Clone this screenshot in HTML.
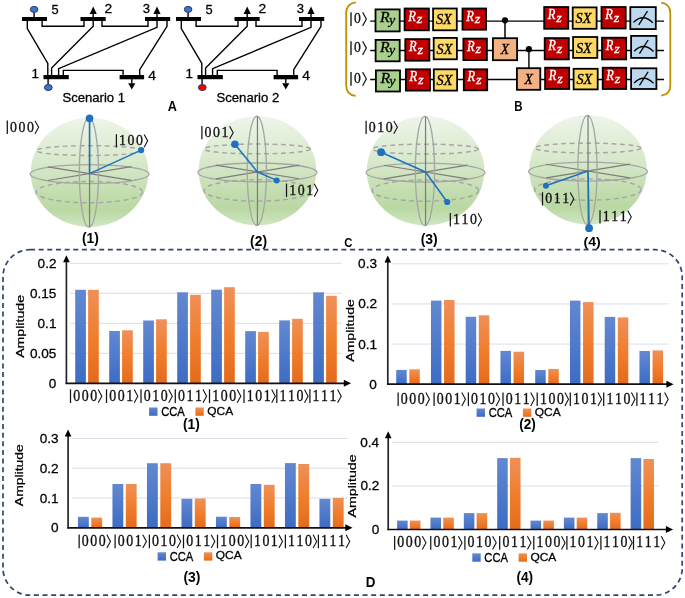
<!DOCTYPE html>
<html><head><meta charset="utf-8"><style>
html,body{margin:0;padding:0;background:#fff;}
body{width:685px;height:598px;overflow:hidden;font-family:"Liberation Sans",sans-serif;}
svg{display:block;}
</style></head><body>
<svg style="will-change:transform" width="685" height="598" viewBox="0 0 685 598">
<rect width="685" height="598" fill="#fff"/>
<defs>
<linearGradient id="sph" x1="0" y1="0" x2="0" y2="1">
<stop offset="0" stop-color="#EDF5E9"/><stop offset="0.4" stop-color="#D8E9CC"/>
<stop offset="0.72" stop-color="#C1DCAC"/><stop offset="0.85" stop-color="#BAD8A3"/><stop offset="1" stop-color="#D0E7C3"/>
</linearGradient>
<linearGradient id="gb" x1="0" y1="0" x2="0" y2="1"><stop offset="0" stop-color="#6388D1"/><stop offset="1" stop-color="#3D6CC4"/></linearGradient>
<linearGradient id="go" x1="0" y1="0" x2="0" y2="1"><stop offset="0" stop-color="#EF9059"/><stop offset="0.5" stop-color="#F07E2E"/><stop offset="1" stop-color="#E46B1B"/></linearGradient>
</defs>
<polyline points="27.30,21.00 27.30,28.60 47.80,63.40 47.80,75.00" fill="none" stroke="#000" stroke-width="1.4"/>
<polyline points="42.10,21.00 42.10,26.30 84.00,26.30 84.00,21.00" fill="none" stroke="#000" stroke-width="1.4"/>
<polyline points="93.20,13.00 93.20,26.30 51.60,68.10 51.60,75.00" fill="none" stroke="#000" stroke-width="1.4"/>
<polyline points="102.00,21.00 102.00,26.30 148.00,26.30 148.00,21.00" fill="none" stroke="#000" stroke-width="1.4"/>
<polyline points="157.00,13.00 157.00,27.30 58.60,68.70 58.60,75.00" fill="none" stroke="#000" stroke-width="1.4"/>
<polyline points="167.00,21.00 167.00,26.30 139.70,69.60 139.70,75.00" fill="none" stroke="#000" stroke-width="1.4"/>
<polyline points="63.30,75.00 63.30,70.40 123.10,70.40 123.10,75.00" fill="none" stroke="#000" stroke-width="1.4"/>
<rect x="22.00" y="17" width="25.00" height="4.00" fill="#000"/>
<rect x="80.50" y="17" width="25.20" height="4.00" fill="#000"/>
<rect x="145.00" y="17" width="25.20" height="4.00" fill="#000"/>
<rect x="43.50" y="75" width="25.30" height="4.20" fill="#000"/>
<rect x="119.60" y="75" width="24.50" height="4.30" fill="#000"/>
<polygon points="89.60,14 96.80,14 93.20,6.4" fill="#000"/>
<polygon points="153.40,14 160.60,14 157.00,6.4" fill="#000"/>
<polyline points="131.80,79.00 131.80,83.50" fill="none" stroke="#000" stroke-width="1.4"/>
<polygon points="128.20,83.3 135.40,83.3 131.80,89.6" fill="#000"/>
<polyline points="34.10,12.50 34.10,17.00" fill="none" stroke="#000" stroke-width="1.4"/>
<ellipse cx="34.10" cy="9.4" rx="3.8" ry="3.0" fill="#4472C4" stroke="#203864" stroke-width="1.0"/>
<polyline points="48.10,79.00 48.10,84.50" fill="none" stroke="#000" stroke-width="1.4"/>
<ellipse cx="48.30" cy="87.5" rx="3.9" ry="3.0" fill="#4472C4" stroke="#203864" stroke-width="1.0"/>
<text transform="translate(51.59,13.67) scale(0.9843,1)" font-family="'Liberation Sans', sans-serif" font-weight="normal" font-style="normal" font-size="13.047" fill="#000" stroke="#000" stroke-width="0.284">5</text>
<text transform="translate(104.51,13.40) scale(1.0731,1)" font-family="'Liberation Sans', sans-serif" font-weight="normal" font-style="normal" font-size="12.903" fill="#000" stroke="#000" stroke-width="0.261">2</text>
<text transform="translate(142.81,13.08) scale(1.0494,1)" font-family="'Liberation Sans', sans-serif" font-weight="normal" font-style="normal" font-size="12.438" fill="#000" stroke="#000" stroke-width="0.267">3</text>
<text transform="translate(31.59,78.10) scale(1.0477,1)" font-family="'Liberation Sans', sans-serif" font-weight="normal" font-style="normal" font-size="12.800" fill="#000" stroke="#000" stroke-width="0.267">1</text>
<text transform="translate(148.19,79.80) scale(1.0829,1)" font-family="'Liberation Sans', sans-serif" font-weight="normal" font-style="normal" font-size="12.800" fill="#000" stroke="#000" stroke-width="0.259">4</text>
<polyline points="181.30,21.00 181.30,28.60 201.80,63.40 201.80,75.00" fill="none" stroke="#000" stroke-width="1.4"/>
<polyline points="196.10,21.00 196.10,26.30 238.00,26.30 238.00,21.00" fill="none" stroke="#000" stroke-width="1.4"/>
<polyline points="247.20,13.00 247.20,26.30 205.60,68.10 205.60,75.00" fill="none" stroke="#000" stroke-width="1.4"/>
<polyline points="256.00,21.00 256.00,26.30 302.00,26.30 302.00,21.00" fill="none" stroke="#000" stroke-width="1.4"/>
<polyline points="311.00,13.00 311.00,27.30 212.60,68.70 212.60,75.00" fill="none" stroke="#000" stroke-width="1.4"/>
<polyline points="321.00,21.00 321.00,26.30 293.70,69.60 293.70,75.00" fill="none" stroke="#000" stroke-width="1.4"/>
<polyline points="217.30,75.00 217.30,70.40 277.10,70.40 277.10,75.00" fill="none" stroke="#000" stroke-width="1.4"/>
<rect x="176.00" y="17" width="25.00" height="4.00" fill="#000"/>
<rect x="234.50" y="17" width="25.20" height="4.00" fill="#000"/>
<rect x="299.00" y="17" width="25.20" height="4.00" fill="#000"/>
<rect x="197.50" y="75" width="25.30" height="4.20" fill="#000"/>
<rect x="273.60" y="75" width="24.50" height="4.30" fill="#000"/>
<polygon points="243.60,14 250.80,14 247.20,6.4" fill="#000"/>
<polygon points="307.40,14 314.60,14 311.00,6.4" fill="#000"/>
<polyline points="285.80,79.00 285.80,83.50" fill="none" stroke="#000" stroke-width="1.4"/>
<polygon points="282.20,83.3 289.40,83.3 285.80,89.6" fill="#000"/>
<polyline points="188.10,12.50 188.10,17.00" fill="none" stroke="#000" stroke-width="1.4"/>
<ellipse cx="188.10" cy="9.4" rx="3.8" ry="3.0" fill="#4472C4" stroke="#203864" stroke-width="1.0"/>
<polyline points="202.10,79.00 202.10,84.50" fill="none" stroke="#000" stroke-width="1.4"/>
<ellipse cx="202.30" cy="87.5" rx="3.9" ry="3.0" fill="#FF0000" stroke="#203864" stroke-width="1.0"/>
<text transform="translate(205.59,13.67) scale(0.9843,1)" font-family="'Liberation Sans', sans-serif" font-weight="normal" font-style="normal" font-size="13.047" fill="#000" stroke="#000" stroke-width="0.284">5</text>
<text transform="translate(258.51,13.40) scale(1.0731,1)" font-family="'Liberation Sans', sans-serif" font-weight="normal" font-style="normal" font-size="12.903" fill="#000" stroke="#000" stroke-width="0.261">2</text>
<text transform="translate(296.81,13.08) scale(1.0494,1)" font-family="'Liberation Sans', sans-serif" font-weight="normal" font-style="normal" font-size="12.438" fill="#000" stroke="#000" stroke-width="0.267">3</text>
<text transform="translate(185.59,78.10) scale(1.0477,1)" font-family="'Liberation Sans', sans-serif" font-weight="normal" font-style="normal" font-size="12.800" fill="#000" stroke="#000" stroke-width="0.267">1</text>
<text transform="translate(302.19,79.80) scale(1.0829,1)" font-family="'Liberation Sans', sans-serif" font-weight="normal" font-style="normal" font-size="12.800" fill="#000" stroke="#000" stroke-width="0.259">4</text>
<text transform="translate(62.41,101.67) scale(1.0151,1)" font-family="'Liberation Sans', sans-serif" font-weight="normal" font-style="normal" font-size="12.925" fill="#000" stroke="#000" stroke-width="0.276">Scenario 1</text>
<text transform="translate(216.41,101.67) scale(1.0189,1)" font-family="'Liberation Sans', sans-serif" font-weight="normal" font-style="normal" font-size="12.925" fill="#000" stroke="#000" stroke-width="0.275">Scenario 2</text>
<text transform="translate(167.78,111.20) scale(0.9181,1)" font-family="'Liberation Sans', sans-serif" font-weight="bold" font-style="normal" font-size="13.818" fill="#000">A</text>
<path d="M355.8,2.3 Q346.2,3.5 346.2,13 L346.2,85.5 Q346.2,95 355.6,95.9" fill="none" stroke="#BF9000" stroke-width="1.8"/>
<path d="M661.2,2.6 Q670.3,4 670.3,13 L670.3,85.5 Q670.3,94.5 661.2,95.7" fill="none" stroke="#BF9000" stroke-width="1.8"/>
<line x1="370.2" y1="21.2" x2="664" y2="21.2" stroke="#000" stroke-width="1.3"/>
<line x1="370.2" y1="50.5" x2="664" y2="50.5" stroke="#000" stroke-width="1.3"/>
<line x1="370.2" y1="79.5" x2="664" y2="79.5" stroke="#000" stroke-width="1.3"/>
<line x1="351.0" y1="12.30" x2="351.0" y2="25.90" stroke="#1a1a1a" stroke-width="1.4"/>
<text transform="scale(0.9031,1)" x="395.74" y="23.45" text-anchor="middle" font-family="'Liberation Serif', serif" font-size="15.111" fill="#111" stroke="#111" stroke-width="0.35">0</text>
<polyline points="362.6,12.30 366.4,19.10 362.6,25.90" fill="none" stroke="#1a1a1a" stroke-width="1.2"/>
<line x1="351.0" y1="41.30" x2="351.0" y2="54.90" stroke="#1a1a1a" stroke-width="1.4"/>
<text transform="scale(0.9031,1)" x="395.74" y="52.45" text-anchor="middle" font-family="'Liberation Serif', serif" font-size="15.111" fill="#111" stroke="#111" stroke-width="0.35">0</text>
<polyline points="362.6,41.30 366.4,48.10 362.6,54.90" fill="none" stroke="#1a1a1a" stroke-width="1.2"/>
<line x1="351.0" y1="72.10" x2="351.0" y2="85.70" stroke="#1a1a1a" stroke-width="1.4"/>
<text transform="scale(0.9031,1)" x="395.74" y="83.25" text-anchor="middle" font-family="'Liberation Serif', serif" font-size="15.111" fill="#111" stroke="#111" stroke-width="0.35">0</text>
<polyline points="362.6,72.10 366.4,78.90 362.6,85.70" fill="none" stroke="#1a1a1a" stroke-width="1.2"/>
<line x1="505.0" y1="20.2" x2="505.0" y2="38.5" stroke="#000" stroke-width="1.5"/>
<line x1="528.9" y1="49.3" x2="528.9" y2="68" stroke="#000" stroke-width="1.4"/>
<rect x="375.50" y="9.40" width="24.20" height="22.00" fill="#A9D18E" stroke="#000" stroke-width="1.8"/>
<text transform="translate(379.98,21.60) scale(1.1273,1)" font-family="'Liberation Serif', serif" font-weight="normal" font-style="italic" font-size="14.046" fill="#000" stroke="#000" stroke-width="0.266">R</text>
<text transform="translate(388.96,23.82) scale(1.1273,1)" font-family="'Liberation Serif', serif" font-weight="normal" font-style="italic" font-size="12.444" fill="#000" stroke="#000" stroke-width="0.266">y</text>
<rect x="404.60" y="8.50" width="24.30" height="21.80" fill="#C00000" stroke="#000" stroke-width="1.8"/>
<text transform="translate(408.26,20.60) scale(0.8899,1)" font-family="'Liberation Serif', serif" font-weight="normal" font-style="italic" font-size="14.046" fill="#fff" stroke="#fff" stroke-width="0.337">R</text>
<text transform="translate(416.74,23.30) scale(1.1948,1)" font-family="'Liberation Serif', serif" font-weight="normal" font-style="italic" font-size="11.957" fill="#fff" stroke="#fff" stroke-width="0.251">z</text>
<rect x="433.10" y="8.50" width="23.70" height="21.80" fill="#FFD966" stroke="#000" stroke-width="1.8"/>
<text transform="translate(435.92,24.14) scale(0.9182,1)" font-family="'Liberation Serif', serif" font-weight="normal" font-style="italic" font-size="15.613" fill="#000" stroke="#000" stroke-width="0.327">SX</text>
<rect x="462.50" y="8.50" width="23.60" height="21.20" fill="#C00000" stroke="#000" stroke-width="1.8"/>
<text transform="translate(466.16,20.60) scale(0.8899,1)" font-family="'Liberation Serif', serif" font-weight="normal" font-style="italic" font-size="14.046" fill="#fff" stroke="#fff" stroke-width="0.337">R</text>
<text transform="translate(474.64,23.30) scale(1.1948,1)" font-family="'Liberation Serif', serif" font-weight="normal" font-style="italic" font-size="11.957" fill="#fff" stroke="#fff" stroke-width="0.251">z</text>
<rect x="544.20" y="7.00" width="24.10" height="21.80" fill="#C00000" stroke="#000" stroke-width="1.8"/>
<text transform="translate(547.86,19.10) scale(0.8899,1)" font-family="'Liberation Serif', serif" font-weight="normal" font-style="italic" font-size="14.046" fill="#fff" stroke="#fff" stroke-width="0.337">R</text>
<text transform="translate(556.34,21.80) scale(1.1948,1)" font-family="'Liberation Serif', serif" font-weight="normal" font-style="italic" font-size="11.957" fill="#fff" stroke="#fff" stroke-width="0.251">z</text>
<rect x="572.70" y="7.40" width="23.90" height="21.40" fill="#FFD966" stroke="#000" stroke-width="1.8"/>
<text transform="translate(575.52,23.04) scale(0.9182,1)" font-family="'Liberation Serif', serif" font-weight="normal" font-style="italic" font-size="15.613" fill="#000" stroke="#000" stroke-width="0.327">SX</text>
<rect x="601.50" y="7.00" width="24.20" height="21.50" fill="#C00000" stroke="#000" stroke-width="1.8"/>
<text transform="translate(605.16,19.10) scale(0.8899,1)" font-family="'Liberation Serif', serif" font-weight="normal" font-style="italic" font-size="14.046" fill="#fff" stroke="#fff" stroke-width="0.337">R</text>
<text transform="translate(613.64,21.80) scale(1.1948,1)" font-family="'Liberation Serif', serif" font-weight="normal" font-style="italic" font-size="11.957" fill="#fff" stroke="#fff" stroke-width="0.251">z</text>
<rect x="630.30" y="7.10" width="25.50" height="22.00" fill="#BDD7EE" stroke="#000" stroke-width="1.8"/>
<path d="M633.45,22.40 Q643.05,12.90 652.85,22.70" fill="none" stroke="#000" stroke-width="1.3"/>
<line x1="638.75" y1="24.90" x2="647.45" y2="11.20" stroke="#000" stroke-width="1.3"/>
<rect x="375.60" y="39.90" width="24.10" height="21.40" fill="#A9D18E" stroke="#000" stroke-width="1.8"/>
<text transform="translate(380.08,52.10) scale(1.1273,1)" font-family="'Liberation Serif', serif" font-weight="normal" font-style="italic" font-size="14.046" fill="#000" stroke="#000" stroke-width="0.266">R</text>
<text transform="translate(389.06,54.32) scale(1.1273,1)" font-family="'Liberation Serif', serif" font-weight="normal" font-style="italic" font-size="12.444" fill="#000" stroke="#000" stroke-width="0.266">y</text>
<rect x="405.30" y="39.10" width="24.10" height="21.60" fill="#C00000" stroke="#000" stroke-width="1.8"/>
<text transform="translate(408.96,51.20) scale(0.8899,1)" font-family="'Liberation Serif', serif" font-weight="normal" font-style="italic" font-size="14.046" fill="#fff" stroke="#fff" stroke-width="0.337">R</text>
<text transform="translate(417.44,53.90) scale(1.1948,1)" font-family="'Liberation Serif', serif" font-weight="normal" font-style="italic" font-size="11.957" fill="#fff" stroke="#fff" stroke-width="0.251">z</text>
<rect x="433.70" y="37.90" width="23.20" height="21.40" fill="#FFD966" stroke="#000" stroke-width="1.8"/>
<text transform="translate(436.52,53.54) scale(0.9182,1)" font-family="'Liberation Serif', serif" font-weight="normal" font-style="italic" font-size="15.613" fill="#000" stroke="#000" stroke-width="0.327">SX</text>
<rect x="463.40" y="38.60" width="23.50" height="21.50" fill="#C00000" stroke="#000" stroke-width="1.8"/>
<text transform="translate(467.06,50.70) scale(0.8899,1)" font-family="'Liberation Serif', serif" font-weight="normal" font-style="italic" font-size="14.046" fill="#fff" stroke="#fff" stroke-width="0.337">R</text>
<text transform="translate(475.54,53.40) scale(1.1948,1)" font-family="'Liberation Serif', serif" font-weight="normal" font-style="italic" font-size="11.957" fill="#fff" stroke="#fff" stroke-width="0.251">z</text>
<rect x="492.90" y="38.20" width="24.20" height="22.00" fill="#F4B183" stroke="#000" stroke-width="1.8"/>
<text transform="translate(500.84,54.40) scale(0.8752,1)" font-family="'Liberation Serif', serif" font-weight="normal" font-style="italic" font-size="15.573" fill="#000" stroke="#000" stroke-width="0.343">X</text>
<rect x="544.70" y="38.10" width="24.10" height="21.30" fill="#C00000" stroke="#000" stroke-width="1.8"/>
<text transform="translate(548.36,50.20) scale(0.8899,1)" font-family="'Liberation Serif', serif" font-weight="normal" font-style="italic" font-size="14.046" fill="#fff" stroke="#fff" stroke-width="0.337">R</text>
<text transform="translate(556.84,52.90) scale(1.1948,1)" font-family="'Liberation Serif', serif" font-weight="normal" font-style="italic" font-size="11.957" fill="#fff" stroke="#fff" stroke-width="0.251">z</text>
<rect x="573.10" y="37.00" width="24.20" height="20.90" fill="#FFD966" stroke="#000" stroke-width="1.8"/>
<text transform="translate(575.92,52.64) scale(0.9182,1)" font-family="'Liberation Serif', serif" font-weight="normal" font-style="italic" font-size="15.613" fill="#000" stroke="#000" stroke-width="0.327">SX</text>
<rect x="602.00" y="37.70" width="24.20" height="21.70" fill="#C00000" stroke="#000" stroke-width="1.8"/>
<text transform="translate(605.66,49.80) scale(0.8899,1)" font-family="'Liberation Serif', serif" font-weight="normal" font-style="italic" font-size="14.046" fill="#fff" stroke="#fff" stroke-width="0.337">R</text>
<text transform="translate(614.14,52.50) scale(1.1948,1)" font-family="'Liberation Serif', serif" font-weight="normal" font-style="italic" font-size="11.957" fill="#fff" stroke="#fff" stroke-width="0.251">z</text>
<rect x="631.10" y="35.90" width="25.30" height="22.00" fill="#BDD7EE" stroke="#000" stroke-width="1.8"/>
<path d="M634.15,51.20 Q643.75,41.70 653.55,51.50" fill="none" stroke="#000" stroke-width="1.3"/>
<line x1="639.45" y1="53.70" x2="648.15" y2="40.00" stroke="#000" stroke-width="1.3"/>
<rect x="375.90" y="70.40" width="24.10" height="21.10" fill="#A9D18E" stroke="#000" stroke-width="1.8"/>
<text transform="translate(380.38,82.60) scale(1.1273,1)" font-family="'Liberation Serif', serif" font-weight="normal" font-style="italic" font-size="14.046" fill="#000" stroke="#000" stroke-width="0.266">R</text>
<text transform="translate(389.36,84.82) scale(1.1273,1)" font-family="'Liberation Serif', serif" font-weight="normal" font-style="italic" font-size="12.444" fill="#000" stroke="#000" stroke-width="0.266">y</text>
<rect x="405.90" y="69.30" width="24.10" height="21.30" fill="#C00000" stroke="#000" stroke-width="1.8"/>
<text transform="translate(409.56,81.40) scale(0.8899,1)" font-family="'Liberation Serif', serif" font-weight="normal" font-style="italic" font-size="14.046" fill="#fff" stroke="#fff" stroke-width="0.337">R</text>
<text transform="translate(418.04,84.10) scale(1.1948,1)" font-family="'Liberation Serif', serif" font-weight="normal" font-style="italic" font-size="11.957" fill="#fff" stroke="#fff" stroke-width="0.251">z</text>
<rect x="433.80" y="69.30" width="23.30" height="21.30" fill="#FFD966" stroke="#000" stroke-width="1.8"/>
<text transform="translate(436.62,84.94) scale(0.9182,1)" font-family="'Liberation Serif', serif" font-weight="normal" font-style="italic" font-size="15.613" fill="#000" stroke="#000" stroke-width="0.327">SX</text>
<rect x="463.80" y="69.30" width="23.40" height="21.00" fill="#C00000" stroke="#000" stroke-width="1.8"/>
<text transform="translate(467.46,81.40) scale(0.8899,1)" font-family="'Liberation Serif', serif" font-weight="normal" font-style="italic" font-size="14.046" fill="#fff" stroke="#fff" stroke-width="0.337">R</text>
<text transform="translate(475.94,84.10) scale(1.1948,1)" font-family="'Liberation Serif', serif" font-weight="normal" font-style="italic" font-size="11.957" fill="#fff" stroke="#fff" stroke-width="0.251">z</text>
<rect x="516.90" y="68.20" width="23.40" height="21.60" fill="#F4B183" stroke="#000" stroke-width="1.8"/>
<text transform="translate(524.44,84.20) scale(0.8752,1)" font-family="'Liberation Serif', serif" font-weight="normal" font-style="italic" font-size="15.573" fill="#000" stroke="#000" stroke-width="0.343">X</text>
<rect x="545.10" y="67.70" width="24.10" height="21.30" fill="#C00000" stroke="#000" stroke-width="1.8"/>
<text transform="translate(548.76,79.80) scale(0.8899,1)" font-family="'Liberation Serif', serif" font-weight="normal" font-style="italic" font-size="14.046" fill="#fff" stroke="#fff" stroke-width="0.337">R</text>
<text transform="translate(557.24,82.50) scale(1.1948,1)" font-family="'Liberation Serif', serif" font-weight="normal" font-style="italic" font-size="11.957" fill="#fff" stroke="#fff" stroke-width="0.251">z</text>
<rect x="573.60" y="68.80" width="24.10" height="20.60" fill="#FFD966" stroke="#000" stroke-width="1.8"/>
<text transform="translate(576.42,84.44) scale(0.9182,1)" font-family="'Liberation Serif', serif" font-weight="normal" font-style="italic" font-size="15.613" fill="#000" stroke="#000" stroke-width="0.327">SX</text>
<rect x="602.70" y="67.70" width="23.50" height="21.30" fill="#C00000" stroke="#000" stroke-width="1.8"/>
<text transform="translate(606.36,79.80) scale(0.8899,1)" font-family="'Liberation Serif', serif" font-weight="normal" font-style="italic" font-size="14.046" fill="#fff" stroke="#fff" stroke-width="0.337">R</text>
<text transform="translate(614.84,82.50) scale(1.1948,1)" font-family="'Liberation Serif', serif" font-weight="normal" font-style="italic" font-size="11.957" fill="#fff" stroke="#fff" stroke-width="0.251">z</text>
<rect x="631.10" y="68.30" width="25.30" height="20.70" fill="#BDD7EE" stroke="#000" stroke-width="1.8"/>
<path d="M634.15,82.95 Q643.75,73.45 653.55,83.25" fill="none" stroke="#000" stroke-width="1.3"/>
<line x1="639.45" y1="85.45" x2="648.15" y2="71.75" stroke="#000" stroke-width="1.3"/>
<circle cx="505.0" cy="20.3" r="3.1" fill="#000"/>
<circle cx="528.9" cy="49.2" r="3.1" fill="#000"/>
<text transform="translate(514.13,110.80) scale(0.8133,1)" font-family="'Liberation Sans', sans-serif" font-weight="bold" font-style="normal" font-size="14.109" fill="#000">B</text>
<ellipse cx="89.55" cy="172.40" rx="58.8" ry="54.6" fill="url(#sph)"/>
<ellipse cx="89.35" cy="150.60" rx="53" ry="4.9" fill="none" stroke="#A9A5A5" stroke-width="1.45" stroke-dasharray="4.8 3.6"/>
<ellipse cx="89.35" cy="192.10" rx="53.3" ry="10.7" fill="none" stroke="#A9A5A5" stroke-width="1.45" stroke-dasharray="4.8 3.6"/>
<ellipse cx="89.55" cy="174.10" rx="59.4" ry="9.5" fill="none" stroke="#A6A6A6" stroke-width="1.35"/>
<line x1="47.75" y1="166.80" x2="131.35" y2="180.40" stroke="#7D7D7D" stroke-width="1.25"/>
<line x1="47.75" y1="180.50" x2="131.35" y2="166.70" stroke="#7D7D7D" stroke-width="1.25"/>
<ellipse cx="88.95" cy="172.50" rx="9.6" ry="54.6" fill="none" stroke="#A6A6A6" stroke-width="1.35"/>
<line x1="89.55" y1="118.10" x2="89.55" y2="227.00" stroke="#7D7D7D" stroke-width="1.25"/>
<line x1="89.55" y1="173.60" x2="89.55" y2="118.40" stroke="#1F72C0" stroke-width="1.55"/>
<line x1="89.55" y1="173.60" x2="141.20" y2="150.10" stroke="#1F72C0" stroke-width="1.55"/>
<circle cx="89.55" cy="118.40" r="3.8" fill="#1F72C0"/>
<circle cx="141.20" cy="150.10" r="3.1" fill="#1F72C0"/>
<ellipse cx="257.45" cy="170.75" rx="58.8" ry="54.6" fill="url(#sph)"/>
<ellipse cx="257.25" cy="148.95" rx="53" ry="4.9" fill="none" stroke="#A9A5A5" stroke-width="1.45" stroke-dasharray="4.8 3.6"/>
<ellipse cx="257.25" cy="190.45" rx="53.3" ry="10.7" fill="none" stroke="#A9A5A5" stroke-width="1.45" stroke-dasharray="4.8 3.6"/>
<ellipse cx="257.45" cy="172.45" rx="59.4" ry="9.5" fill="none" stroke="#A6A6A6" stroke-width="1.35"/>
<line x1="215.65" y1="165.15" x2="299.25" y2="178.75" stroke="#7D7D7D" stroke-width="1.25"/>
<line x1="215.65" y1="178.85" x2="299.25" y2="165.05" stroke="#7D7D7D" stroke-width="1.25"/>
<ellipse cx="256.85" cy="170.85" rx="9.6" ry="54.6" fill="none" stroke="#A6A6A6" stroke-width="1.35"/>
<line x1="257.45" y1="116.45" x2="257.45" y2="225.35" stroke="#7D7D7D" stroke-width="1.25"/>
<line x1="257.45" y1="171.95" x2="234.90" y2="144.30" stroke="#1F72C0" stroke-width="1.55"/>
<line x1="257.45" y1="171.95" x2="276.70" y2="180.40" stroke="#1F72C0" stroke-width="1.55"/>
<circle cx="234.90" cy="144.30" r="3.8" fill="#1F72C0"/>
<circle cx="276.70" cy="180.40" r="3.0" fill="#1F72C0"/>
<ellipse cx="425.55" cy="170.85" rx="58.8" ry="54.6" fill="url(#sph)"/>
<ellipse cx="425.35" cy="149.05" rx="53" ry="4.9" fill="none" stroke="#A9A5A5" stroke-width="1.45" stroke-dasharray="4.8 3.6"/>
<ellipse cx="425.35" cy="190.55" rx="53.3" ry="10.7" fill="none" stroke="#A9A5A5" stroke-width="1.45" stroke-dasharray="4.8 3.6"/>
<ellipse cx="425.55" cy="172.55" rx="59.4" ry="9.5" fill="none" stroke="#A6A6A6" stroke-width="1.35"/>
<line x1="383.75" y1="165.25" x2="467.35" y2="178.85" stroke="#7D7D7D" stroke-width="1.25"/>
<line x1="383.75" y1="178.95" x2="467.35" y2="165.15" stroke="#7D7D7D" stroke-width="1.25"/>
<ellipse cx="424.95" cy="170.95" rx="9.6" ry="54.6" fill="none" stroke="#A6A6A6" stroke-width="1.35"/>
<line x1="425.55" y1="116.55" x2="425.55" y2="225.45" stroke="#7D7D7D" stroke-width="1.25"/>
<line x1="425.55" y1="172.05" x2="381.10" y2="152.20" stroke="#1F72C0" stroke-width="1.55"/>
<line x1="425.55" y1="172.05" x2="447.20" y2="202.00" stroke="#1F72C0" stroke-width="1.55"/>
<circle cx="381.10" cy="152.20" r="3.9" fill="#1F72C0"/>
<circle cx="447.20" cy="202.00" r="3.1" fill="#1F72C0"/>
<ellipse cx="588.05" cy="169.85" rx="58.8" ry="54.6" fill="url(#sph)"/>
<ellipse cx="587.85" cy="148.05" rx="53" ry="4.9" fill="none" stroke="#A9A5A5" stroke-width="1.45" stroke-dasharray="4.8 3.6"/>
<ellipse cx="587.85" cy="189.55" rx="53.3" ry="10.7" fill="none" stroke="#A9A5A5" stroke-width="1.45" stroke-dasharray="4.8 3.6"/>
<ellipse cx="588.05" cy="171.55" rx="59.4" ry="9.5" fill="none" stroke="#A6A6A6" stroke-width="1.35"/>
<line x1="546.25" y1="164.25" x2="629.85" y2="177.85" stroke="#7D7D7D" stroke-width="1.25"/>
<line x1="546.25" y1="177.95" x2="629.85" y2="164.15" stroke="#7D7D7D" stroke-width="1.25"/>
<ellipse cx="587.45" cy="169.95" rx="9.6" ry="54.6" fill="none" stroke="#A6A6A6" stroke-width="1.35"/>
<line x1="588.05" y1="115.55" x2="588.05" y2="224.45" stroke="#7D7D7D" stroke-width="1.25"/>
<line x1="588.05" y1="171.05" x2="545.90" y2="185.80" stroke="#1F72C0" stroke-width="1.55"/>
<line x1="588.05" y1="171.05" x2="589.10" y2="228.20" stroke="#1F72C0" stroke-width="1.55"/>
<circle cx="545.90" cy="185.80" r="3.0" fill="#1F72C0"/>
<circle cx="589.10" cy="228.20" r="3.9" fill="#1F72C0"/>
<line x1="7.30" y1="120.60" x2="7.30" y2="133.90" stroke="#141414" stroke-width="1.25"/>
<text transform="scale(0.9093,1)" x="14.79 24.14 33.49" y="131.75" text-anchor="middle" font-family="'Liberation Serif', serif" font-size="15.267" fill="#111" stroke="#111" stroke-width="0.35">000</text>
<polyline points="35.00,120.80 38.60,127.25 35.00,133.70" fill="none" stroke="#141414" stroke-width="1.1"/>
<line x1="116.40" y1="134.20" x2="116.40" y2="147.50" stroke="#141414" stroke-width="1.25"/>
<text transform="scale(0.9093,1)" x="134.77 144.12 153.47" y="145.35" text-anchor="middle" font-family="'Liberation Serif', serif" font-size="15.267" fill="#111" stroke="#111" stroke-width="0.35">100</text>
<polyline points="144.10,134.40 147.70,140.85 144.10,147.30" fill="none" stroke="#141414" stroke-width="1.1"/>
<line x1="201.90" y1="126.00" x2="201.90" y2="139.30" stroke="#141414" stroke-width="1.25"/>
<text transform="scale(0.9093,1)" x="228.80 238.14 247.49" y="137.15" text-anchor="middle" font-family="'Liberation Serif', serif" font-size="15.267" fill="#111" stroke="#111" stroke-width="0.35">001</text>
<polyline points="229.60,126.20 233.20,132.65 229.60,139.10" fill="none" stroke="#141414" stroke-width="1.1"/>
<line x1="286.50" y1="183.60" x2="286.50" y2="196.90" stroke="#141414" stroke-width="1.25"/>
<text transform="scale(0.9093,1)" x="321.83 331.18 340.53" y="194.75" text-anchor="middle" font-family="'Liberation Serif', serif" font-size="15.267" fill="#111" stroke="#111" stroke-width="0.35">101</text>
<polyline points="314.20,183.80 317.80,190.25 314.20,196.70" fill="none" stroke="#141414" stroke-width="1.1"/>
<line x1="366.10" y1="120.70" x2="366.10" y2="134.00" stroke="#141414" stroke-width="1.25"/>
<text transform="scale(0.9093,1)" x="409.37 418.72 428.07" y="131.85" text-anchor="middle" font-family="'Liberation Serif', serif" font-size="15.267" fill="#111" stroke="#111" stroke-width="0.35">010</text>
<polyline points="393.80,120.90 397.40,127.35 393.80,133.80" fill="none" stroke="#141414" stroke-width="1.1"/>
<line x1="450.30" y1="213.10" x2="450.30" y2="226.40" stroke="#141414" stroke-width="1.25"/>
<text transform="scale(0.9093,1)" x="501.97 511.31 520.66" y="224.25" text-anchor="middle" font-family="'Liberation Serif', serif" font-size="15.267" fill="#111" stroke="#111" stroke-width="0.35">110</text>
<polyline points="478.00,213.30 481.60,219.75 478.00,226.20" fill="none" stroke="#141414" stroke-width="1.1"/>
<line x1="542.50" y1="192.20" x2="542.50" y2="205.60" stroke="#141414" stroke-width="1.25"/>
<text transform="scale(0.9019,1)" x="608.34 617.76 627.19" y="203.44" text-anchor="middle" font-family="'Liberation Serif', serif" font-size="15.393" fill="#111" stroke="#111" stroke-width="0.35">011</text>
<polyline points="570.20,192.40 573.80,198.90 570.20,205.40" fill="none" stroke="#141414" stroke-width="1.1"/>
<line x1="600.00" y1="210.20" x2="600.00" y2="223.60" stroke="#141414" stroke-width="1.25"/>
<text transform="scale(0.9019,1)" x="672.09 681.52 690.94" y="221.44" text-anchor="middle" font-family="'Liberation Serif', serif" font-size="15.393" fill="#111" stroke="#111" stroke-width="0.35">111</text>
<polyline points="627.70,210.40 631.30,216.90 627.70,223.40" fill="none" stroke="#141414" stroke-width="1.1"/>
<text transform="translate(81.91,243.03) scale(0.9982,1)" font-family="'Liberation Sans', sans-serif" font-weight="bold" font-style="normal" font-size="13.834" fill="#000">(1)</text>
<text transform="translate(250.11,245.63) scale(0.9982,1)" font-family="'Liberation Sans', sans-serif" font-weight="bold" font-style="normal" font-size="13.834" fill="#000">(2)</text>
<text transform="translate(420.70,244.45) scale(1.0189,1)" font-family="'Liberation Sans', sans-serif" font-weight="bold" font-style="normal" font-size="13.727" fill="#000">(3)</text>
<text transform="translate(583.60,245.70) scale(1.0417,1)" font-family="'Liberation Sans', sans-serif" font-weight="bold" font-style="normal" font-size="13.512" fill="#000">(4)</text>
<text transform="translate(344.15,246.66) scale(0.8326,1)" font-family="'Liberation Sans', sans-serif" font-weight="bold" font-style="normal" font-size="13.569" fill="#000">C</text>
<rect x="3" y="249.7" width="679.2" height="345.5" rx="27" ry="27" fill="none" stroke="#33466F" stroke-width="1.7" stroke-dasharray="5 3.65"/>
<line x1="70.00" y1="353.30" x2="341.70" y2="353.30" stroke="#D9DEE9" stroke-width="1"/>
<line x1="70.00" y1="323.30" x2="341.70" y2="323.30" stroke="#D9DEE9" stroke-width="1"/>
<line x1="70.00" y1="293.30" x2="341.70" y2="293.30" stroke="#D9DEE9" stroke-width="1"/>
<line x1="70.00" y1="263.30" x2="341.70" y2="263.30" stroke="#D9DEE9" stroke-width="1"/>
<rect x="75.20" y="289.80" width="10.7" height="93.50" fill="url(#gb)"/>
<rect x="88.10" y="289.80" width="10.7" height="93.50" fill="url(#go)"/>
<rect x="109.20" y="331.00" width="10.7" height="52.30" fill="url(#gb)"/>
<rect x="122.10" y="330.30" width="10.7" height="53.00" fill="url(#go)"/>
<rect x="143.20" y="320.50" width="10.7" height="62.80" fill="url(#gb)"/>
<rect x="156.10" y="319.30" width="10.7" height="64.00" fill="url(#go)"/>
<rect x="177.20" y="292.30" width="10.7" height="91.00" fill="url(#gb)"/>
<rect x="190.10" y="294.80" width="10.7" height="88.50" fill="url(#go)"/>
<rect x="211.20" y="289.70" width="10.7" height="93.60" fill="url(#gb)"/>
<rect x="224.10" y="287.20" width="10.7" height="96.10" fill="url(#go)"/>
<rect x="245.20" y="331.10" width="10.7" height="52.20" fill="url(#gb)"/>
<rect x="258.10" y="331.90" width="10.7" height="51.40" fill="url(#go)"/>
<rect x="279.20" y="320.40" width="10.7" height="62.90" fill="url(#gb)"/>
<rect x="292.10" y="318.80" width="10.7" height="64.50" fill="url(#go)"/>
<rect x="313.20" y="292.30" width="10.7" height="91.00" fill="url(#gb)"/>
<rect x="326.10" y="295.80" width="10.7" height="87.50" fill="url(#go)"/>
<line x1="66.40" y1="384.00" x2="66.40" y2="260.20" stroke="#262626" stroke-width="1.7"/>
<polygon points="63.10,262.20 69.70,262.20 66.40,255.20" fill="#000"/>
<line x1="65.65" y1="383.30" x2="346.00" y2="383.30" stroke="#111" stroke-width="1.7"/>
<polygon points="343.80,379.80 343.80,386.80 351.00,383.30" fill="#000"/>
<text transform="translate(48.76,387.77) scale(1.0000,1)" font-family="'Liberation Sans', sans-serif" font-weight="normal" font-style="normal" font-size="13.600" fill="#000" stroke="#000" stroke-width="0.280">0</text>
<text transform="translate(29.89,357.77) scale(1.0000,1)" font-family="'Liberation Sans', sans-serif" font-weight="normal" font-style="normal" font-size="13.600" fill="#000" stroke="#000" stroke-width="0.280">0.05</text>
<text transform="translate(37.54,327.77) scale(1.0000,1)" font-family="'Liberation Sans', sans-serif" font-weight="normal" font-style="normal" font-size="13.600" fill="#000" stroke="#000" stroke-width="0.280">0.1</text>
<text transform="translate(29.89,297.77) scale(1.0000,1)" font-family="'Liberation Sans', sans-serif" font-weight="normal" font-style="normal" font-size="13.600" fill="#000" stroke="#000" stroke-width="0.280">0.15</text>
<text transform="translate(37.58,267.77) scale(1.0000,1)" font-family="'Liberation Sans', sans-serif" font-weight="normal" font-style="normal" font-size="13.600" fill="#000" stroke="#000" stroke-width="0.280">0.2</text>
<text transform="translate(23.87,357.84) rotate(-90) scale(1.2094,1)" font-family="'Liberation Sans', sans-serif" font-weight="normal" font-style="normal" font-size="11.689" fill="#000" stroke="#000" stroke-width="0.232">Amplitude</text>
<line x1="70.50" y1="389.30" x2="70.50" y2="403.00" stroke="#141414" stroke-width="1.25"/>
<text transform="scale(0.8803,1)" x="87.07 96.73 106.39" y="400.79" text-anchor="middle" font-family="'Liberation Serif', serif" font-size="15.770" fill="#111" stroke="#111" stroke-width="0.35">000</text>
<polyline points="98.20,389.50 101.80,396.15 98.20,402.80" fill="none" stroke="#141414" stroke-width="1.1"/>
<line x1="106.50" y1="389.30" x2="106.50" y2="403.00" stroke="#141414" stroke-width="1.25"/>
<text transform="scale(0.8803,1)" x="127.97 137.63 147.28" y="400.79" text-anchor="middle" font-family="'Liberation Serif', serif" font-size="15.770" fill="#111" stroke="#111" stroke-width="0.35">001</text>
<polyline points="134.20,389.50 137.80,396.15 134.20,402.80" fill="none" stroke="#141414" stroke-width="1.1"/>
<line x1="141.00" y1="389.30" x2="141.00" y2="403.00" stroke="#141414" stroke-width="1.25"/>
<text transform="scale(0.8803,1)" x="167.16 176.82 186.47" y="400.79" text-anchor="middle" font-family="'Liberation Serif', serif" font-size="15.770" fill="#111" stroke="#111" stroke-width="0.35">010</text>
<polyline points="168.70,389.50 172.30,396.15 168.70,402.80" fill="none" stroke="#141414" stroke-width="1.1"/>
<line x1="175.30" y1="389.30" x2="175.30" y2="403.00" stroke="#141414" stroke-width="1.25"/>
<text transform="scale(0.8803,1)" x="206.13 215.78 225.44" y="400.79" text-anchor="middle" font-family="'Liberation Serif', serif" font-size="15.770" fill="#111" stroke="#111" stroke-width="0.35">011</text>
<polyline points="203.00,389.50 206.60,396.15 203.00,402.80" fill="none" stroke="#141414" stroke-width="1.1"/>
<line x1="209.50" y1="389.30" x2="209.50" y2="403.00" stroke="#141414" stroke-width="1.25"/>
<text transform="scale(0.8803,1)" x="244.98 254.63 264.29" y="400.79" text-anchor="middle" font-family="'Liberation Serif', serif" font-size="15.770" fill="#111" stroke="#111" stroke-width="0.35">100</text>
<polyline points="237.20,389.50 240.80,396.15 237.20,402.80" fill="none" stroke="#141414" stroke-width="1.1"/>
<line x1="244.00" y1="389.30" x2="244.00" y2="403.00" stroke="#141414" stroke-width="1.25"/>
<text transform="scale(0.8803,1)" x="284.17 293.83 303.48" y="400.79" text-anchor="middle" font-family="'Liberation Serif', serif" font-size="15.770" fill="#111" stroke="#111" stroke-width="0.35">101</text>
<polyline points="271.70,389.50 275.30,396.15 271.70,402.80" fill="none" stroke="#141414" stroke-width="1.1"/>
<line x1="276.80" y1="389.30" x2="276.80" y2="403.00" stroke="#141414" stroke-width="1.25"/>
<text transform="scale(0.8803,1)" x="321.43 331.09 340.74" y="400.79" text-anchor="middle" font-family="'Liberation Serif', serif" font-size="15.770" fill="#111" stroke="#111" stroke-width="0.35">110</text>
<polyline points="304.50,389.50 308.10,396.15 304.50,402.80" fill="none" stroke="#141414" stroke-width="1.1"/>
<line x1="309.90" y1="389.30" x2="309.90" y2="403.00" stroke="#141414" stroke-width="1.25"/>
<text transform="scale(0.8803,1)" x="359.03 368.69 378.35" y="400.79" text-anchor="middle" font-family="'Liberation Serif', serif" font-size="15.770" fill="#111" stroke="#111" stroke-width="0.35">111</text>
<polyline points="337.60,389.50 341.20,396.15 337.60,402.80" fill="none" stroke="#141414" stroke-width="1.1"/>
<rect x="149.10" y="407.50" width="8.4" height="8.3" fill="url(#gb)"/>
<text transform="translate(161.14,415.77) scale(0.8815,1)" font-family="'Liberation Sans', sans-serif" font-weight="normal" font-style="normal" font-size="12.721" fill="#000" stroke="#000" stroke-width="0.318">CCA</text>
<rect x="195.40" y="407.50" width="8.4" height="8.3" fill="url(#go)"/>
<text transform="translate(207.23,414.60) scale(1.0820,1)" font-family="'Liberation Sans', sans-serif" font-weight="normal" font-style="normal" font-size="11.042" fill="#000" stroke="#000" stroke-width="0.259">QCA</text>
<text transform="translate(183.01,429.44) scale(0.9619,1)" font-family="'Liberation Sans', sans-serif" font-weight="bold" font-style="normal" font-size="14.263" fill="#000">(1)</text>
<line x1="391.00" y1="344.07" x2="668.50" y2="344.07" stroke="#D9DEE9" stroke-width="1"/>
<line x1="391.00" y1="303.94" x2="668.50" y2="303.94" stroke="#D9DEE9" stroke-width="1"/>
<line x1="391.00" y1="263.81" x2="668.50" y2="263.81" stroke="#D9DEE9" stroke-width="1"/>
<rect x="396.20" y="369.90" width="10.5" height="14.30" fill="url(#gb)"/>
<rect x="409.30" y="369.30" width="10.5" height="14.90" fill="url(#go)"/>
<rect x="430.95" y="300.60" width="10.5" height="83.60" fill="url(#gb)"/>
<rect x="444.05" y="300.00" width="10.5" height="84.20" fill="url(#go)"/>
<rect x="465.70" y="316.80" width="10.5" height="67.40" fill="url(#gb)"/>
<rect x="478.80" y="315.30" width="10.5" height="68.90" fill="url(#go)"/>
<rect x="500.45" y="350.90" width="10.5" height="33.30" fill="url(#gb)"/>
<rect x="513.55" y="351.70" width="10.5" height="32.50" fill="url(#go)"/>
<rect x="535.20" y="370.00" width="10.5" height="14.20" fill="url(#gb)"/>
<rect x="548.30" y="368.90" width="10.5" height="15.30" fill="url(#go)"/>
<rect x="569.95" y="300.60" width="10.5" height="83.60" fill="url(#gb)"/>
<rect x="583.05" y="302.10" width="10.5" height="82.10" fill="url(#go)"/>
<rect x="604.70" y="316.90" width="10.5" height="67.30" fill="url(#gb)"/>
<rect x="617.80" y="317.40" width="10.5" height="66.80" fill="url(#go)"/>
<rect x="639.45" y="351.00" width="10.5" height="33.20" fill="url(#gb)"/>
<rect x="652.55" y="350.40" width="10.5" height="33.80" fill="url(#go)"/>
<line x1="387.80" y1="384.90" x2="387.80" y2="260.60" stroke="#262626" stroke-width="1.7"/>
<polygon points="384.50,262.60 391.10,262.60 387.80,255.60" fill="#000"/>
<line x1="387.05" y1="384.20" x2="668.60" y2="384.20" stroke="#111" stroke-width="1.7"/>
<polygon points="666.40,380.70 666.40,387.70 673.60,384.20" fill="#000"/>
<text transform="translate(369.36,388.67) scale(1.0000,1)" font-family="'Liberation Sans', sans-serif" font-weight="normal" font-style="normal" font-size="13.600" fill="#000" stroke="#000" stroke-width="0.280">0</text>
<text transform="translate(358.14,348.54) scale(1.0000,1)" font-family="'Liberation Sans', sans-serif" font-weight="normal" font-style="normal" font-size="13.600" fill="#000" stroke="#000" stroke-width="0.280">0.1</text>
<text transform="translate(358.18,308.41) scale(1.0000,1)" font-family="'Liberation Sans', sans-serif" font-weight="normal" font-style="normal" font-size="13.600" fill="#000" stroke="#000" stroke-width="0.280">0.2</text>
<text transform="translate(358.07,268.28) scale(1.0000,1)" font-family="'Liberation Sans', sans-serif" font-weight="normal" font-style="normal" font-size="13.600" fill="#000" stroke="#000" stroke-width="0.280">0.3</text>
<text transform="translate(354.36,361.74) rotate(-90) scale(1.2494,1)" font-family="'Liberation Sans', sans-serif" font-weight="normal" font-style="normal" font-size="11.260" fill="#000" stroke="#000" stroke-width="0.224">Amplitude</text>
<line x1="398.15" y1="392.40" x2="398.15" y2="406.10" stroke="#141414" stroke-width="1.25"/>
<text transform="scale(0.8803,1)" x="459.29 468.94 478.60" y="403.89" text-anchor="middle" font-family="'Liberation Serif', serif" font-size="15.770" fill="#111" stroke="#111" stroke-width="0.35">000</text>
<polyline points="425.85,392.60 429.45,399.25 425.85,405.90" fill="none" stroke="#141414" stroke-width="1.1"/>
<line x1="434.10" y1="392.40" x2="434.10" y2="406.10" stroke="#141414" stroke-width="1.25"/>
<text transform="scale(0.8803,1)" x="500.12 509.78 519.44" y="403.89" text-anchor="middle" font-family="'Liberation Serif', serif" font-size="15.770" fill="#111" stroke="#111" stroke-width="0.35">001</text>
<polyline points="461.80,392.60 465.40,399.25 461.80,405.90" fill="none" stroke="#141414" stroke-width="1.1"/>
<line x1="468.40" y1="392.40" x2="468.40" y2="406.10" stroke="#141414" stroke-width="1.25"/>
<text transform="scale(0.8803,1)" x="539.09 548.75 558.40" y="403.89" text-anchor="middle" font-family="'Liberation Serif', serif" font-size="15.770" fill="#111" stroke="#111" stroke-width="0.35">010</text>
<polyline points="496.10,392.60 499.70,399.25 496.10,405.90" fill="none" stroke="#141414" stroke-width="1.1"/>
<line x1="503.00" y1="392.40" x2="503.00" y2="406.10" stroke="#141414" stroke-width="1.25"/>
<text transform="scale(0.8803,1)" x="578.40 588.05 597.71" y="403.89" text-anchor="middle" font-family="'Liberation Serif', serif" font-size="15.770" fill="#111" stroke="#111" stroke-width="0.35">011</text>
<polyline points="530.70,392.60 534.30,399.25 530.70,405.90" fill="none" stroke="#141414" stroke-width="1.1"/>
<line x1="537.20" y1="392.40" x2="537.20" y2="406.10" stroke="#141414" stroke-width="1.25"/>
<text transform="scale(0.8803,1)" x="617.25 626.90 636.56" y="403.89" text-anchor="middle" font-family="'Liberation Serif', serif" font-size="15.770" fill="#111" stroke="#111" stroke-width="0.35">100</text>
<polyline points="564.90,392.60 568.50,399.25 564.90,405.90" fill="none" stroke="#141414" stroke-width="1.1"/>
<line x1="570.30" y1="392.40" x2="570.30" y2="406.10" stroke="#141414" stroke-width="1.25"/>
<text transform="scale(0.8803,1)" x="654.85 664.50 674.16" y="403.89" text-anchor="middle" font-family="'Liberation Serif', serif" font-size="15.770" fill="#111" stroke="#111" stroke-width="0.35">101</text>
<polyline points="598.00,392.60 601.60,399.25 598.00,405.90" fill="none" stroke="#141414" stroke-width="1.1"/>
<line x1="603.70" y1="392.40" x2="603.70" y2="406.10" stroke="#141414" stroke-width="1.25"/>
<text transform="scale(0.8803,1)" x="692.79 702.45 712.10" y="403.89" text-anchor="middle" font-family="'Liberation Serif', serif" font-size="15.770" fill="#111" stroke="#111" stroke-width="0.35">110</text>
<polyline points="631.40,392.60 635.00,399.25 631.40,405.90" fill="none" stroke="#141414" stroke-width="1.1"/>
<line x1="636.90" y1="392.40" x2="636.90" y2="406.10" stroke="#141414" stroke-width="1.25"/>
<text transform="scale(0.8803,1)" x="730.51 740.16 749.82" y="403.89" text-anchor="middle" font-family="'Liberation Serif', serif" font-size="15.770" fill="#111" stroke="#111" stroke-width="0.35">111</text>
<polyline points="664.60,392.60 668.20,399.25 664.60,405.90" fill="none" stroke="#141414" stroke-width="1.1"/>
<rect x="476.60" y="408.50" width="8.4" height="8.3" fill="url(#gb)"/>
<text transform="translate(488.64,416.77) scale(0.8815,1)" font-family="'Liberation Sans', sans-serif" font-weight="normal" font-style="normal" font-size="12.721" fill="#000" stroke="#000" stroke-width="0.318">CCA</text>
<rect x="522.90" y="408.50" width="8.4" height="8.3" fill="url(#go)"/>
<text transform="translate(534.73,415.60) scale(1.0820,1)" font-family="'Liberation Sans', sans-serif" font-weight="normal" font-style="normal" font-size="11.042" fill="#000" stroke="#000" stroke-width="0.259">QCA</text>
<text transform="translate(519.22,429.01) scale(0.9713,1)" font-family="'Liberation Sans', sans-serif" font-weight="bold" font-style="normal" font-size="13.941" fill="#000">(2)</text>
<line x1="72.00" y1="498.03" x2="348.00" y2="498.03" stroke="#D9DEE9" stroke-width="1"/>
<line x1="72.00" y1="468.26" x2="348.00" y2="468.26" stroke="#D9DEE9" stroke-width="1"/>
<line x1="72.00" y1="438.49" x2="348.00" y2="438.49" stroke="#D9DEE9" stroke-width="1"/>
<rect x="77.95" y="516.80" width="10.85" height="11.00" fill="url(#gb)"/>
<rect x="91.30" y="517.60" width="10.85" height="10.20" fill="url(#go)"/>
<rect x="112.45" y="484.00" width="10.85" height="43.80" fill="url(#gb)"/>
<rect x="125.80" y="484.00" width="10.85" height="43.80" fill="url(#go)"/>
<rect x="146.95" y="463.20" width="10.85" height="64.60" fill="url(#gb)"/>
<rect x="160.30" y="463.20" width="10.85" height="64.60" fill="url(#go)"/>
<rect x="181.45" y="498.80" width="10.85" height="29.00" fill="url(#gb)"/>
<rect x="194.80" y="498.50" width="10.85" height="29.30" fill="url(#go)"/>
<rect x="215.95" y="516.70" width="10.85" height="11.10" fill="url(#gb)"/>
<rect x="229.30" y="517.00" width="10.85" height="10.80" fill="url(#go)"/>
<rect x="250.45" y="484.00" width="10.85" height="43.80" fill="url(#gb)"/>
<rect x="263.80" y="484.80" width="10.85" height="43.00" fill="url(#go)"/>
<rect x="284.95" y="463.10" width="10.85" height="64.70" fill="url(#gb)"/>
<rect x="298.30" y="464.00" width="10.85" height="63.80" fill="url(#go)"/>
<rect x="319.45" y="498.80" width="10.85" height="29.00" fill="url(#gb)"/>
<rect x="332.80" y="497.90" width="10.85" height="29.90" fill="url(#go)"/>
<line x1="68.10" y1="528.50" x2="68.10" y2="434.50" stroke="#262626" stroke-width="1.7"/>
<polygon points="64.80,436.50 71.40,436.50 68.10,429.50" fill="#000"/>
<line x1="67.35" y1="527.80" x2="347.50" y2="527.80" stroke="#111" stroke-width="1.7"/>
<polygon points="345.30,524.30 345.30,531.30 352.50,527.80" fill="#000"/>
<text transform="translate(50.96,532.27) scale(1.0000,1)" font-family="'Liberation Sans', sans-serif" font-weight="normal" font-style="normal" font-size="13.600" fill="#000" stroke="#000" stroke-width="0.280">0</text>
<text transform="translate(39.74,502.50) scale(1.0000,1)" font-family="'Liberation Sans', sans-serif" font-weight="normal" font-style="normal" font-size="13.600" fill="#000" stroke="#000" stroke-width="0.280">0.1</text>
<text transform="translate(39.78,472.73) scale(1.0000,1)" font-family="'Liberation Sans', sans-serif" font-weight="normal" font-style="normal" font-size="13.600" fill="#000" stroke="#000" stroke-width="0.280">0.2</text>
<text transform="translate(39.67,442.96) scale(1.0000,1)" font-family="'Liberation Sans', sans-serif" font-weight="normal" font-style="normal" font-size="13.600" fill="#000" stroke="#000" stroke-width="0.280">0.3</text>
<text transform="translate(22.81,506.13) rotate(-90) scale(1.2613,1)" font-family="'Liberation Sans', sans-serif" font-weight="normal" font-style="normal" font-size="11.046" fill="#000" stroke="#000" stroke-width="0.222">Amplitude</text>
<line x1="79.15" y1="534.60" x2="79.15" y2="548.30" stroke="#141414" stroke-width="1.25"/>
<text transform="scale(0.8803,1)" x="96.90 106.56 116.21" y="546.09" text-anchor="middle" font-family="'Liberation Serif', serif" font-size="15.770" fill="#111" stroke="#111" stroke-width="0.35">000</text>
<polyline points="106.85,534.80 110.45,541.45 106.85,548.10" fill="none" stroke="#141414" stroke-width="1.1"/>
<line x1="115.10" y1="534.60" x2="115.10" y2="548.30" stroke="#141414" stroke-width="1.25"/>
<text transform="scale(0.8803,1)" x="137.74 147.40 157.05" y="546.09" text-anchor="middle" font-family="'Liberation Serif', serif" font-size="15.770" fill="#111" stroke="#111" stroke-width="0.35">001</text>
<polyline points="142.80,534.80 146.40,541.45 142.80,548.10" fill="none" stroke="#141414" stroke-width="1.1"/>
<line x1="149.40" y1="534.60" x2="149.40" y2="548.30" stroke="#141414" stroke-width="1.25"/>
<text transform="scale(0.8803,1)" x="176.70 186.36 196.02" y="546.09" text-anchor="middle" font-family="'Liberation Serif', serif" font-size="15.770" fill="#111" stroke="#111" stroke-width="0.35">010</text>
<polyline points="177.10,534.80 180.70,541.45 177.10,548.10" fill="none" stroke="#141414" stroke-width="1.1"/>
<line x1="183.50" y1="534.60" x2="183.50" y2="548.30" stroke="#141414" stroke-width="1.25"/>
<text transform="scale(0.8803,1)" x="215.44 225.10 234.75" y="546.09" text-anchor="middle" font-family="'Liberation Serif', serif" font-size="15.770" fill="#111" stroke="#111" stroke-width="0.35">011</text>
<polyline points="211.20,534.80 214.80,541.45 211.20,548.10" fill="none" stroke="#141414" stroke-width="1.1"/>
<line x1="217.50" y1="534.60" x2="217.50" y2="548.30" stroke="#141414" stroke-width="1.25"/>
<text transform="scale(0.8803,1)" x="254.07 263.72 273.38" y="546.09" text-anchor="middle" font-family="'Liberation Serif', serif" font-size="15.770" fill="#111" stroke="#111" stroke-width="0.35">100</text>
<polyline points="245.20,534.80 248.80,541.45 245.20,548.10" fill="none" stroke="#141414" stroke-width="1.1"/>
<line x1="251.20" y1="534.60" x2="251.20" y2="548.30" stroke="#141414" stroke-width="1.25"/>
<text transform="scale(0.8803,1)" x="292.35 302.01 311.66" y="546.09" text-anchor="middle" font-family="'Liberation Serif', serif" font-size="15.770" fill="#111" stroke="#111" stroke-width="0.35">101</text>
<polyline points="278.90,534.80 282.50,541.45 278.90,548.10" fill="none" stroke="#141414" stroke-width="1.1"/>
<line x1="285.40" y1="534.60" x2="285.40" y2="548.30" stroke="#141414" stroke-width="1.25"/>
<text transform="scale(0.8803,1)" x="331.20 340.86 350.51" y="546.09" text-anchor="middle" font-family="'Liberation Serif', serif" font-size="15.770" fill="#111" stroke="#111" stroke-width="0.35">110</text>
<polyline points="313.10,534.80 316.70,541.45 313.10,548.10" fill="none" stroke="#141414" stroke-width="1.1"/>
<line x1="318.40" y1="534.60" x2="318.40" y2="548.30" stroke="#141414" stroke-width="1.25"/>
<text transform="scale(0.8803,1)" x="368.69 378.35 388.00" y="546.09" text-anchor="middle" font-family="'Liberation Serif', serif" font-size="15.770" fill="#111" stroke="#111" stroke-width="0.35">111</text>
<polyline points="346.10,534.80 349.70,541.45 346.10,548.10" fill="none" stroke="#141414" stroke-width="1.1"/>
<rect x="157.60" y="552.30" width="8.4" height="8.3" fill="url(#gb)"/>
<text transform="translate(169.64,560.57) scale(0.8815,1)" font-family="'Liberation Sans', sans-serif" font-weight="normal" font-style="normal" font-size="12.721" fill="#000" stroke="#000" stroke-width="0.318">CCA</text>
<rect x="203.90" y="552.30" width="8.4" height="8.3" fill="url(#go)"/>
<text transform="translate(215.73,559.40) scale(1.0820,1)" font-family="'Liberation Sans', sans-serif" font-weight="normal" font-style="normal" font-size="11.042" fill="#000" stroke="#000" stroke-width="0.259">QCA</text>
<text transform="translate(183.40,582.18) scale(0.9956,1)" font-family="'Liberation Sans', sans-serif" font-weight="bold" font-style="normal" font-size="14.048" fill="#000">(3)</text>
<line x1="392.00" y1="485.90" x2="658.20" y2="485.90" stroke="#D9DEE9" stroke-width="1"/>
<line x1="392.00" y1="442.30" x2="658.20" y2="442.30" stroke="#D9DEE9" stroke-width="1"/>
<rect x="397.10" y="520.60" width="10.55" height="8.90" fill="url(#gb)"/>
<rect x="409.90" y="520.60" width="10.55" height="8.90" fill="url(#go)"/>
<rect x="430.46" y="517.60" width="10.55" height="11.90" fill="url(#gb)"/>
<rect x="443.26" y="517.60" width="10.55" height="11.90" fill="url(#go)"/>
<rect x="463.82" y="513.10" width="10.55" height="16.40" fill="url(#gb)"/>
<rect x="476.62" y="513.10" width="10.55" height="16.40" fill="url(#go)"/>
<rect x="497.18" y="458.10" width="10.55" height="71.40" fill="url(#gb)"/>
<rect x="509.98" y="457.80" width="10.55" height="71.70" fill="url(#go)"/>
<rect x="530.54" y="520.60" width="10.55" height="8.90" fill="url(#gb)"/>
<rect x="543.34" y="520.60" width="10.55" height="8.90" fill="url(#go)"/>
<rect x="563.90" y="517.60" width="10.55" height="11.90" fill="url(#gb)"/>
<rect x="576.70" y="517.60" width="10.55" height="11.90" fill="url(#go)"/>
<rect x="597.26" y="513.10" width="10.55" height="16.40" fill="url(#gb)"/>
<rect x="610.06" y="512.80" width="10.55" height="16.70" fill="url(#go)"/>
<rect x="630.62" y="458.10" width="10.55" height="71.40" fill="url(#gb)"/>
<rect x="643.42" y="459.00" width="10.55" height="70.50" fill="url(#go)"/>
<line x1="388.20" y1="530.20" x2="388.20" y2="436.30" stroke="#262626" stroke-width="1.7"/>
<polygon points="384.90,438.30 391.50,438.30 388.20,431.30" fill="#000"/>
<line x1="387.45" y1="529.50" x2="668.10" y2="529.50" stroke="#111" stroke-width="1.7"/>
<polygon points="665.90,526.00 665.90,533.00 673.10,529.50" fill="#000"/>
<text transform="translate(371.66,533.98) scale(1.0000,1)" font-family="'Liberation Sans', sans-serif" font-weight="normal" font-style="normal" font-size="13.600" fill="#000" stroke="#000" stroke-width="0.280">0</text>
<text transform="translate(360.48,490.37) scale(1.0000,1)" font-family="'Liberation Sans', sans-serif" font-weight="normal" font-style="normal" font-size="13.600" fill="#000" stroke="#000" stroke-width="0.280">0.2</text>
<text transform="translate(360.17,446.77) scale(1.0000,1)" font-family="'Liberation Sans', sans-serif" font-weight="normal" font-style="normal" font-size="13.600" fill="#000" stroke="#000" stroke-width="0.280">0.4</text>
<text transform="translate(355.90,517.54) rotate(-90) scale(1.3380,1)" font-family="'Liberation Sans', sans-serif" font-weight="normal" font-style="normal" font-size="10.617" fill="#000" stroke="#000" stroke-width="0.209">Amplitude</text>
<line x1="394.65" y1="536.00" x2="394.65" y2="549.70" stroke="#141414" stroke-width="1.25"/>
<text transform="scale(0.8803,1)" x="455.31 464.97 474.62" y="547.49" text-anchor="middle" font-family="'Liberation Serif', serif" font-size="15.770" fill="#111" stroke="#111" stroke-width="0.35">000</text>
<polyline points="422.35,536.20 425.95,542.85 422.35,549.50" fill="none" stroke="#141414" stroke-width="1.1"/>
<line x1="430.75" y1="536.00" x2="430.75" y2="549.70" stroke="#141414" stroke-width="1.25"/>
<text transform="scale(0.8803,1)" x="496.32 505.97 515.63" y="547.49" text-anchor="middle" font-family="'Liberation Serif', serif" font-size="15.770" fill="#111" stroke="#111" stroke-width="0.35">001</text>
<polyline points="458.45,536.20 462.05,542.85 458.45,549.50" fill="none" stroke="#141414" stroke-width="1.1"/>
<line x1="464.90" y1="536.00" x2="464.90" y2="549.70" stroke="#141414" stroke-width="1.25"/>
<text transform="scale(0.8803,1)" x="535.11 544.77 554.43" y="547.49" text-anchor="middle" font-family="'Liberation Serif', serif" font-size="15.770" fill="#111" stroke="#111" stroke-width="0.35">010</text>
<polyline points="492.60,536.20 496.20,542.85 492.60,549.50" fill="none" stroke="#141414" stroke-width="1.1"/>
<line x1="499.70" y1="536.00" x2="499.70" y2="549.70" stroke="#141414" stroke-width="1.25"/>
<text transform="scale(0.8803,1)" x="574.65 584.30 593.96" y="547.49" text-anchor="middle" font-family="'Liberation Serif', serif" font-size="15.770" fill="#111" stroke="#111" stroke-width="0.35">011</text>
<polyline points="527.40,536.20 531.00,542.85 527.40,549.50" fill="none" stroke="#141414" stroke-width="1.1"/>
<line x1="533.80" y1="536.00" x2="533.80" y2="549.70" stroke="#141414" stroke-width="1.25"/>
<text transform="scale(0.8803,1)" x="613.38 623.04 632.70" y="547.49" text-anchor="middle" font-family="'Liberation Serif', serif" font-size="15.770" fill="#111" stroke="#111" stroke-width="0.35">100</text>
<polyline points="561.50,536.20 565.10,542.85 561.50,549.50" fill="none" stroke="#141414" stroke-width="1.1"/>
<line x1="566.90" y1="536.00" x2="566.90" y2="549.70" stroke="#141414" stroke-width="1.25"/>
<text transform="scale(0.8803,1)" x="650.99 660.64 670.30" y="547.49" text-anchor="middle" font-family="'Liberation Serif', serif" font-size="15.770" fill="#111" stroke="#111" stroke-width="0.35">101</text>
<polyline points="594.60,536.20 598.20,542.85 594.60,549.50" fill="none" stroke="#141414" stroke-width="1.1"/>
<line x1="600.90" y1="536.00" x2="600.90" y2="549.70" stroke="#141414" stroke-width="1.25"/>
<text transform="scale(0.8803,1)" x="689.61 699.27 708.92" y="547.49" text-anchor="middle" font-family="'Liberation Serif', serif" font-size="15.770" fill="#111" stroke="#111" stroke-width="0.35">110</text>
<polyline points="628.60,536.20 632.20,542.85 628.60,549.50" fill="none" stroke="#141414" stroke-width="1.1"/>
<line x1="633.50" y1="536.00" x2="633.50" y2="549.70" stroke="#141414" stroke-width="1.25"/>
<text transform="scale(0.8803,1)" x="726.64 736.30 745.96" y="547.49" text-anchor="middle" font-family="'Liberation Serif', serif" font-size="15.770" fill="#111" stroke="#111" stroke-width="0.35">111</text>
<polyline points="661.20,536.20 664.80,542.85 661.20,549.50" fill="none" stroke="#141414" stroke-width="1.1"/>
<rect x="472.30" y="553.40" width="8.4" height="8.3" fill="url(#gb)"/>
<text transform="translate(484.34,561.67) scale(0.8815,1)" font-family="'Liberation Sans', sans-serif" font-weight="normal" font-style="normal" font-size="12.721" fill="#000" stroke="#000" stroke-width="0.318">CCA</text>
<rect x="518.60" y="553.40" width="8.4" height="8.3" fill="url(#go)"/>
<text transform="translate(530.43,560.50) scale(1.0820,1)" font-family="'Liberation Sans', sans-serif" font-weight="normal" font-style="normal" font-size="11.042" fill="#000" stroke="#000" stroke-width="0.259">QCA</text>
<text transform="translate(516.41,582.28) scale(0.9766,1)" font-family="'Liberation Sans', sans-serif" font-weight="bold" font-style="normal" font-size="14.048" fill="#000">(4)</text>
<text transform="translate(365.80,586.80) scale(0.9392,1)" font-family="'Liberation Sans', sans-serif" font-weight="bold" font-style="normal" font-size="14.255" fill="#000">D</text>
</svg>
</body></html>
